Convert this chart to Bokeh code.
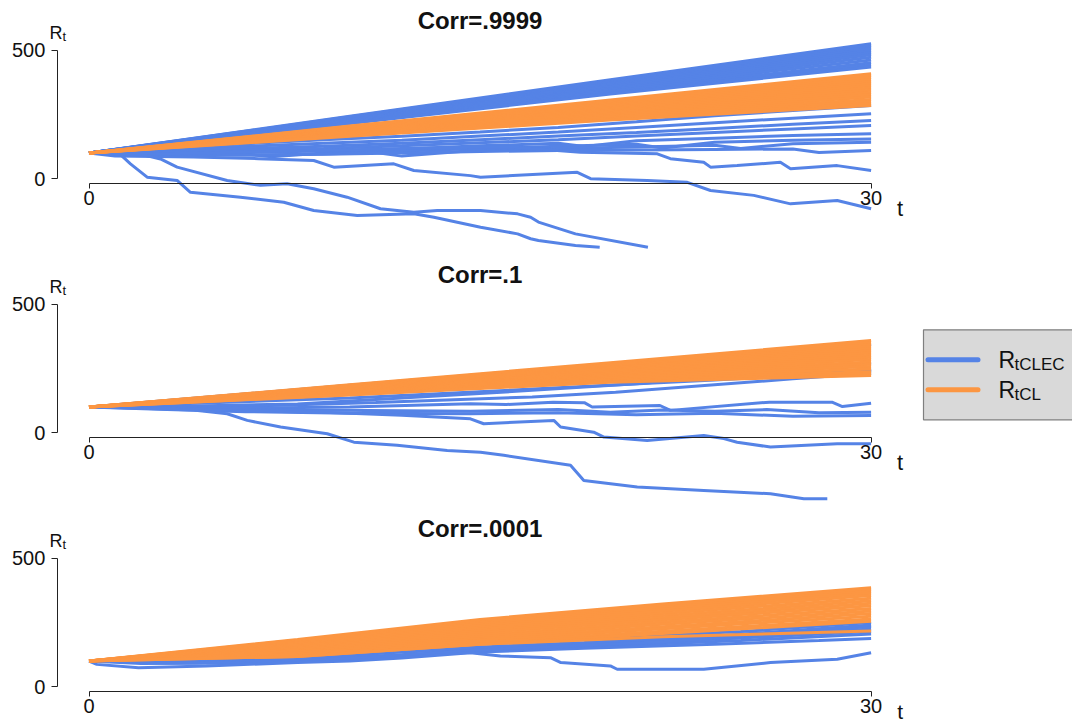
from bokeh.plotting import figure
from bokeh.layouts import column
from bokeh.models import Range1d, LinearAxis, FixedTicker
from bokeh.core.properties import value
from bokeh.embed import file_html
from bokeh.resources import INLINE

# ---------------- data ----------------
titles = ["Corr=.9999", "Corr=.1", "Corr=.0001"]
y_ticks = [0, 500]
x_ticks = [0, 30]
legend_main = ["R", "R"]
legend_sub = ["tCLEC", "tCL"]

band_t = [0, 10, 20, 30]

# Panel 1 (Corr=.9999)
p1_blue_band_v = [
    [100, 243, 386, 526], [100, 241, 381, 519], [100, 239, 377, 513],
    [100, 236, 372, 506], [100, 234, 368, 499], [100, 231, 363, 491],
    [100, 229, 358, 483], [100, 226, 352, 473], [100, 223, 347, 463],
    [100, 220, 341, 452], [100, 217, 334, 443], [100, 215, 330, 435],
]
p1_blue_low_t = [
    [0, 3, 6, 9, 12, 15, 18, 21, 24, 27, 30],
    [0, 3, 6, 9, 12, 15, 18, 21, 24, 27, 30],
    [0, 3, 6, 9, 12, 15, 18, 21, 24, 27, 30],
    [0, 3, 6, 9, 12, 15, 18, 21, 24, 27, 30],
    [0, 3, 4, 6, 9, 12, 15, 18, 19, 21, 24, 27, 30],
    [0, 3, 6, 7, 9, 12, 15, 18, 21, 22, 24, 27, 30],
    [0, 3, 6, 9, 11, 12, 15, 18, 21, 24, 25, 27, 30],
    [0, 3, 6, 9, 12, 15, 18, 21, 24, 27, 28, 30],
    [0, 1, 4, 6.5, 8.62, 9.39, 11.69, 12.46, 14.63, 15.02, 18.73, 19.24, 21.41, 22.95, 23.84, 25.5, 26.91, 28.7, 30],
    [0, 3, 6, 9, 12, 14.63, 16.3, 18.85, 21.8, 22.3, 23.58, 23.84, 24.86, 26.52, 26.91, 28.7, 30],
    [0, 1.2, 1.59, 2.23, 3.38, 3.89, 5.81, 7.47, 8.62, 10.29, 12.46, 13.23, 15.02, 16.44, 16.94, 17.24, 18.66, 19.59],
    [0, 2, 2.74, 3.38, 5.30, 6.58, 7.60, 8.62, 9.90, 11.18, 12.46, 13.36, 15.02, 16.44, 16.94, 17.24, 18.66, 21.44],
]
p1_blue_low_v = [
    [100, 118, 136, 152, 165, 182, 200, 222, 245, 266, 285],
    [100, 112, 126, 138, 150, 166, 182, 200, 218, 236, 253],
    [100, 108, 118, 126, 138, 152, 166, 180, 196, 212, 227],
    [100, 104, 110, 118, 128, 140, 152, 166, 180, 194, 207],
    [100, 98, 90, 102, 108, 116, 128, 138, 126, 148, 158, 168, 175],
    [100, 95, 96, 86, 100, 108, 118, 126, 134, 120, 142, 150, 155],
    [100, 92, 92, 96, 102, 88, 112, 118, 124, 130, 118, 136, 142],
    [100, 94, 92, 95, 100, 106, 110, 112, 114, 116, 102, 110],
    [100, 88, 85, 78, 71, 45, 58, 32, 12, 6, 25, 0, -7, -14, -46, -65, -98, -85, -117],
    [100, 97, 104, 110, 118, 123, 123, 103, 97, 78, 64, 45, 51, 64, 39, 51, 32],
    [100, 95, 58, 6, -7, -53, -72, -92, -124, -143, -137, -150, -189, -215, -234, -241, -260, -267],
    [100, 95, 77, 45, -7, -26, -20, -39, -72, -117, -131, -124, -124, -137, -150, -169, -215, -267],
]
p1_orange_v = [
    [100, 205, 307, 409], [100, 203, 302, 402], [100, 200, 297, 394],
    [100, 198, 292, 386], [100, 195, 287, 378], [100, 193, 282, 370],
    [100, 190, 277, 362], [100, 188, 272, 353], [100, 185, 267, 345],
    [100, 182, 262, 336], [100, 180, 257, 327], [100, 177, 251, 318],
    [100, 174, 246, 309], [100, 171, 240, 300], [100, 168, 234, 292],
    [100, 165, 229, 285],
]

# Panel 2 (Corr=.1)
p2_blue_t = [
    [0, 10, 20, 30],
    [0, 10, 20, 30],
    [0, 10, 20, 30],
    [0, 5, 10, 17, 24, 30],
    [0, 4, 8, 12, 17, 21, 25, 30],
    [0, 6, 11, 17, 20.2, 27, 30],
    [0, 5, 10, 14.63, 16, 17.8, 19, 19.3, 21.9, 22.3, 26.1, 28.5, 28.9, 30],
    [0, 4, 8, 12, 14.63, 18, 20, 22, 24, 26, 28, 30],
    [0, 3, 6, 10, 14.63, 18, 21, 24, 27, 30],
    [0, 3, 6, 9, 12, 14.63, 15.14, 17.83, 18.09, 19.36, 19.75, 21.41, 23.58, 24.35, 24.86, 26.14, 28.7, 30],
    [0, 2, 4, 5.3, 6.07, 7.35, 9.14, 10.16, 11.82, 13.74, 15.02, 15.91, 18.47, 18.98, 21.03, 23.58, 26.14, 27.42, 28.32],
]
p2_blue_v = [
    [100, 185, 265, 345],
    [100, 162, 220, 272],
    [100, 150, 200, 246],
    [100, 118, 135, 170, 205, 240],
    [100, 104, 112, 135, 165, 191, 223, 242],
    [100, 103, 118, 139, 158, 210, 232],
    [100, 95, 100, 113, 110, 119, 117, 100, 106, 87, 119, 119, 102, 115],
    [100, 92, 88, 86, 84, 90, 80, 88, 84, 90, 78, 80],
    [100, 90, 82, 76, 74, 78, 70, 76, 64, 67],
    [100, 95, 85, 80, 68, 54, 35, 48, 22, 2, -17, -30, -11, -23, -37, -56, -43, -43],
    [100, 95, 88, 74, 48, 22, -4, -37, -49, -69, -76, -88, -127, -186, -212, -225, -238, -257, -257],
]
p2_orange_v = [
    [100, 187, 273, 359], [100, 185, 269, 351], [100, 182, 264, 343],
    [100, 180, 260, 335], [100, 178, 255, 327], [100, 175, 251, 319],
    [100, 173, 246, 311], [100, 170, 241, 302], [100, 168, 237, 294],
    [100, 165, 232, 285], [100, 163, 227, 276], [100, 160, 222, 267],
    [100, 158, 217, 258], [100, 155, 212, 248], [100, 152, 206, 238],
    [100, 149, 201, 230], [100, 147, 197, 223],
]

# Panel 3 (Corr=.0001)
p3_blue_t = [
    [0, 5, 10, 15, 20, 25, 30],
    [0, 4, 8, 12, 16, 20, 25, 30],
    [0, 3, 8, 12, 15, 20, 25, 30],
    [0, 2, 6, 10, 15, 19, 24, 28, 30],
    [0, 5, 10, 15, 20, 25, 30],
    [0, 3, 7, 11, 16, 22, 30],
    [0, 4, 9, 14, 19, 24, 30],
    [0, 0.3, 1.9, 4.5, 8, 10, 12, 14.63, 15.78, 17.7, 18.1, 20, 20.26, 23.58, 26.14, 28.7, 30],
]
p3_blue_v = [
    [100, 115, 140, 165, 190, 215, 250],
    [100, 100, 110, 135, 150, 170, 195, 225],
    [100, 95, 100, 120, 145, 160, 180, 205],
    [100, 90, 92, 110, 135, 150, 165, 180, 188],
    [100, 95, 115, 140, 165, 190, 215],
    [100, 92, 95, 115, 150, 175, 235],
    [100, 104, 125, 150, 172, 198, 240],
    [100, 87, 74, 81, 94, 100, 112, 132, 120, 113, 94, 81, 68, 68, 94, 107, 132],
]
p3_orange_t = [0, 8, 15, 22, 30]
p3_orange_v = [
    [100, 184, 262, 322, 386], [100, 181, 256, 316, 379], [100, 178, 250, 309, 372],
    [100, 175, 244, 302, 364], [100, 171, 238, 294, 355], [100, 167, 231, 285, 345],
    [100, 163, 224, 277, 335], [100, 158, 217, 269, 325], [100, 153, 210, 261, 315],
    [100, 148, 202, 252, 305], [100, 143, 195, 243, 295], [100, 137, 187, 234, 285],
    [100, 131, 180, 226, 275], [100, 125, 172, 216, 264], [100, 118, 165, 207, 255],
    [100, 118, 165, 195, 217],
]

# ---------------- styling / layout ----------------
BLUE = "#5583E6"
ORANGE = "#FC9642"
FONT = "Liberation Sans"
W = 1072
X0, XS = 88.5, 26.07      # px of t=0, px per unit t
Y0, YS = 178.2, 0.2566    # local px of R=0, px per unit R


def tx(px):
    return (px - X0) / XS


def vy(py):
    return (Y0 - py) / YS


def style_axis(ax, tick_out, standoff):
    ax.axis_line_color = "#222222"
    ax.axis_line_width = 1
    ax.major_tick_line_color = "#222222"
    ax.major_tick_out = tick_out
    ax.major_tick_in = 0
    ax.minor_tick_out = 0
    ax.minor_tick_in = 0
    ax.major_label_text_font = FONT
    ax.major_label_text_font_size = "20px"
    ax.major_label_text_color = "#111111"
    ax.major_label_standoff = standoff


def add_text(p, px, py, s, size, align="left", bold=False):
    p.text(x=[tx(px)], y=[vy(py)], text=[s], text_font=value(FONT),
           text_font_style="bold" if bold else "normal", text_font_size=size,
           text_align=align, text_baseline="alphabetic", text_color="#111111")


def make_panel(h, title, blue_t, blue_v, orange_t, orange_v, legend=False, t_py=208, t_size="22px"):
    p = figure(width=W, height=h, x_range=Range1d(tx(0), tx(W)),
               y_range=Range1d(vy(h), vy(0)), output_backend="svg",
               toolbar_location=None, min_border=0, x_axis_location=None,
               y_axis_location=None, outline_line_color=None)
    p.grid.visible = False
    p.multi_line(blue_t, blue_v, line_color=BLUE, line_width=3)
    p.multi_line(orange_t, orange_v, line_color=ORANGE, line_width=3)

    yax = LinearAxis(fixed_location=tx(56.8), ticker=FixedTicker(ticks=y_ticks),
                     bounds=(y_ticks[0], y_ticks[-1]))
    style_axis(yax, 6, 6)
    p.add_layout(yax, "left")
    xax = LinearAxis(fixed_location=vy(183), ticker=FixedTicker(ticks=x_ticks),
                     bounds=(x_ticks[0], x_ticks[-1]))
    style_axis(xax, 5, 2)
    p.add_layout(xax, "below")

    add_text(p, 479.5, 19.5, title, "24px", align="center", bold=True)
    add_text(p, 49, 32, "R", "18px")
    add_text(p, 62, 35.5, "t", "13px")
    add_text(p, 899.6, t_py, "t", t_size, align="center")

    if legend:
        p.quad(left=[tx(923)], right=[tx(1080)], top=[vy(75.3)], bottom=[vy(165.3)],
               fill_color="#D9D9D9", line_color="#7F7F7F", line_width=1.2)
        for i, (col, main, sub) in enumerate(zip([BLUE, ORANGE], legend_main, legend_sub)):
            cy = 105.3 + 30 * i
            p.line(x=[tx(927.5), tx(977.5)], y=[vy(cy), vy(cy)], line_color=col,
                   line_width=5, line_cap="round")
            add_text(p, 998, cy, main, "23px")
            add_text(p, 1014, cy + 4.5, sub, "17px")
    return p


p1 = make_panel(254, titles[0],
                [band_t] * len(p1_blue_band_v) + p1_blue_low_t,
                p1_blue_band_v + p1_blue_low_v,
                [band_t] * len(p1_orange_v), p1_orange_v)
p2 = make_panel(254, titles[1], p2_blue_t, p2_blue_v,
                [band_t] * len(p2_orange_v), p2_orange_v, legend=True)
p3 = make_panel(217, titles[2], p3_blue_t, p3_blue_v,
                [p3_orange_t] * len(p3_orange_v), p3_orange_v, t_py=203, t_size="21px")

layout = column(p1, p2, p3, spacing=0)
open("out.html", "w").write(file_html(layout, INLINE))
